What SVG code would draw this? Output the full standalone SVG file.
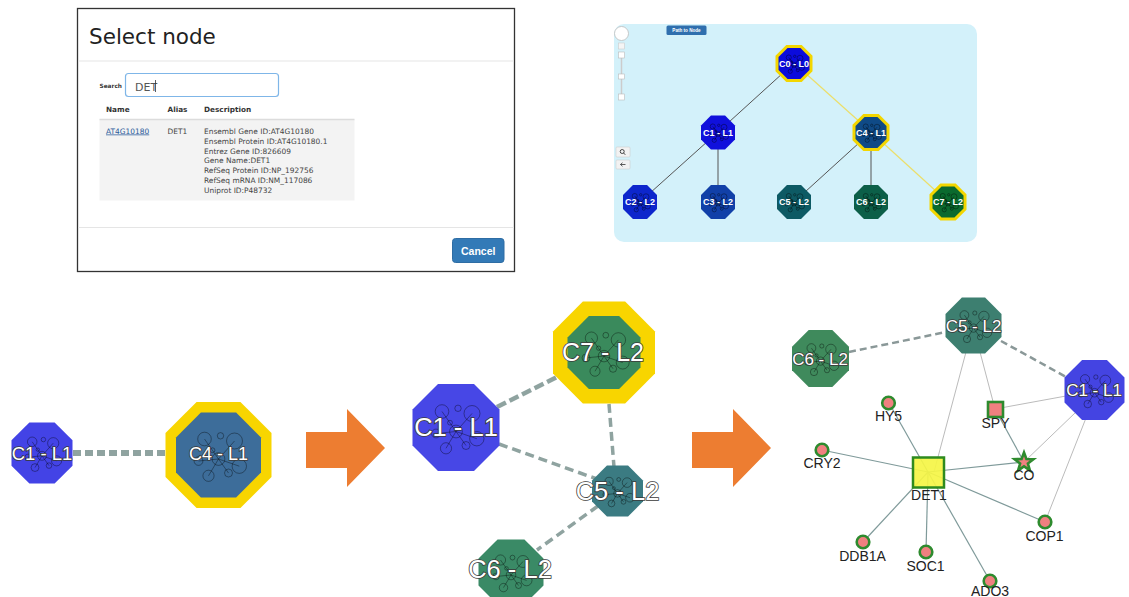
<svg xmlns="http://www.w3.org/2000/svg" xmlns:xlink="http://www.w3.org/1999/xlink" width="1129" height="597" viewBox="0 0 1129 597">
<style>
.dlg{font-family:"DejaVu Sans","Liberation Sans",sans-serif}
.hd{font-size:7.3px;font-weight:bold;fill:#333}
.desc{font-size:7.45px;fill:#444}
.tl{font-family:"Liberation Sans",Arial,sans-serif;font-weight:bold;font-size:9px;fill:#fff;text-anchor:middle}
.big{font-family:"Liberation Sans",Arial,sans-serif;fill:#fff;stroke:#3a3a3a;stroke-width:1.6;paint-order:stroke;text-anchor:middle}
.sm{font-family:"Liberation Sans",Arial,sans-serif;font-size:14px;fill:#222;text-anchor:middle}
.dash{fill:none;stroke:#8fa3a0}
.gl{stroke:#7f9a9a;stroke-width:1.2}
.tn{stroke:#bbbbbb;stroke-width:1}
.gene{fill:#f08080;stroke:#2e8b2e;stroke-width:2.6}
</style>
<defs>
<polygon id="oct" points="-41.42,-100 41.42,-100 100,-41.42 100,41.42 41.42,100 -41.42,100 -100,41.42 -100,-41.42"/>
<g id="ico" fill="none" stroke="#000" stroke-opacity="0.36">
<line x1="0" y1="10" x2="-35" y2="-40" vector-effect="non-scaling-stroke"/>
<line x1="0" y1="10" x2="40" y2="-35" vector-effect="non-scaling-stroke"/>
<line x1="0" y1="10" x2="-50" y2="15" vector-effect="non-scaling-stroke"/>
<line x1="0" y1="10" x2="-25" y2="52" vector-effect="non-scaling-stroke"/>
<line x1="0" y1="10" x2="25" y2="45" vector-effect="non-scaling-stroke"/>
<line x1="0" y1="10" x2="52" y2="28" vector-effect="non-scaling-stroke"/>
<circle cx="0" cy="10" r="16" vector-effect="non-scaling-stroke"/>
<circle cx="-35" cy="-40" r="17" vector-effect="non-scaling-stroke"/>
<circle cx="5" cy="-48" r="8" vector-effect="non-scaling-stroke"/>
<circle cx="40" cy="-35" r="20" vector-effect="non-scaling-stroke"/>
<circle cx="-50" cy="15" r="11" vector-effect="non-scaling-stroke"/>
<circle cx="-25" cy="52" r="14" vector-effect="non-scaling-stroke"/>
<circle cx="25" cy="45" r="10" vector-effect="non-scaling-stroke"/>
<circle cx="52" cy="28" r="18" vector-effect="non-scaling-stroke"/>
<circle cx="-15" cy="-12" r="6" vector-effect="non-scaling-stroke"/>
</g>
<polygon id="arrow" points="0,23 41,23 41,0 79,39 41,78 41,59 0,59"/>
</defs>

<!-- Dialog -->
<g id="dialog" class="dlg">
<rect x="77.5" y="8.5" width="437" height="263" fill="#fff" stroke="#333" stroke-width="1.3"/>
<text x="89" y="44" font-size="21.5" fill="#222">Select node</text>
<line x1="78" y1="61" x2="514" y2="61" stroke="#e5e5e5" stroke-width="1"/>
<text x="99.5" y="87.5" font-size="5.8" font-weight="bold" fill="#333">Search</text>
<rect x="125.5" y="73.5" width="153" height="23" rx="3" fill="#fff" stroke="#7fb6e8" stroke-width="1.2"/>
<text x="135" y="90.5" font-size="11" fill="#555">DET</text>
<line x1="155.5" y1="80" x2="155.5" y2="92" stroke="#333" stroke-width="0.8"/>
<text x="106" y="111.5" class="hd">Name</text>
<text x="167.5" y="111.5" class="hd">Alias</text>
<text x="204" y="111.5" class="hd">Description</text>
<rect x="99.5" y="119.5" width="255" height="81" fill="#f3f3f3"/>
<line x1="99.5" y1="119.5" x2="354.5" y2="119.5" stroke="#dcdcdc" stroke-width="1.5"/>
<text x="106" y="133.5" class="desc" style="fill:#2a5a9a" text-decoration="underline">AT4G10180</text>
<text x="167.5" y="133.5" class="desc">DET1</text>
<text x="204" y="133.5" class="desc">Ensembl Gene ID:AT4G10180</text>
<text x="204" y="143.5" class="desc">Ensembl Protein ID:AT4G10180.1</text>
<text x="204" y="153.5" class="desc">Entrez Gene ID:826609</text>
<text x="204" y="163.3" class="desc">Gene Name:DET1</text>
<text x="204" y="173.2" class="desc">RefSeq Protein ID:NP_192756</text>
<text x="204" y="183" class="desc">RefSeq mRNA ID:NM_117086</text>
<text x="204" y="192.8" class="desc">Uniprot ID:P48732</text>
<line x1="78" y1="227.5" x2="514" y2="227.5" stroke="#e5e5e5" stroke-width="1"/>
<rect x="452.5" y="238.5" width="51.5" height="24" rx="3" fill="#337ab7" stroke="#2e6da4"/>
<text x="478.2" y="254.5" font-size="10.5" font-weight="bold" fill="#fff" text-anchor="middle" font-family="Liberation Sans, Arial, sans-serif">Cancel</text>
</g>

<!-- Tree panel -->
<g id="tree-panel">
<rect x="614" y="24" width="363" height="218" rx="10" fill="#d3f1fa"/>
<rect x="666.5" y="25.5" width="40" height="9.5" rx="1.5" fill="#2f6fae"/>
<text x="686.5" y="32.3" font-family="Liberation Sans, Arial, sans-serif" font-size="4.6" font-weight="bold" fill="#fff" text-anchor="middle">Path to Node</text>
<circle cx="621.5" cy="33.5" r="7" fill="#fff" stroke="#bbb" stroke-width="0.8"/>
<line x1="621.5" y1="55" x2="621.5" y2="97" stroke="#ccc" stroke-width="1.5"/>
<rect x="618.5" y="43" width="6" height="6" fill="#f5f5f5" stroke="#ccc" stroke-width="0.6"/>
<rect x="618.5" y="52" width="6" height="6" fill="#fff" stroke="#bbb" stroke-width="0.6"/>
<rect x="618.5" y="74" width="6" height="5" fill="#fff" stroke="#bbb" stroke-width="0.6"/>
<rect x="618.5" y="94" width="6" height="6" fill="#fff" stroke="#bbb" stroke-width="0.6"/>
<rect x="616" y="147" width="14" height="10" rx="1" fill="#f2f2f2" stroke="#ccc" stroke-width="0.6"/>
<circle cx="622.2" cy="151.5" r="2" fill="none" stroke="#333" stroke-width="0.9"/>
<line x1="623.6" y1="153" x2="625.3" y2="154.8" stroke="#333" stroke-width="0.9"/>
<rect x="616" y="160" width="14" height="9" rx="1" fill="#f2f2f2" stroke="#ccc" stroke-width="0.6"/>
<path d="M620.5,164.5 L625.5,164.5 M620.5,164.5 L622.5,162.7 M620.5,164.5 L622.5,166.3" stroke="#333" stroke-width="0.8" fill="none"/>
</g>
<g id="tree-edges">
<line x1="794" y1="63" x2="718" y2="132" stroke="#555" stroke-width="1"/>
<line x1="794" y1="63" x2="871" y2="132" stroke="#ecdf6a" stroke-width="1.2"/>
<line x1="718" y1="132" x2="640" y2="202" stroke="#555" stroke-width="1"/>
<line x1="718" y1="132" x2="718" y2="202" stroke="#555" stroke-width="1"/>
<line x1="871" y1="132" x2="794" y2="202" stroke="#555" stroke-width="1"/>
<line x1="871" y1="132" x2="871" y2="202" stroke="#555" stroke-width="1"/>
<line x1="871" y1="132" x2="948" y2="202" stroke="#ecdf6a" stroke-width="1.2"/>
</g>
<g id="t-c0"><use href="#oct" transform="translate(794,63.5) scale(0.185)" fill="#f3d600"/><use href="#oct" transform="translate(794,63.5) scale(0.155)" fill="#0b0bdc"/><use href="#ico" transform="translate(794,63.5) scale(0.15)"/><text class="tl" x="794" y="66.5">C0 - L0</text></g>
<g id="t-c1"><use href="#oct" transform="translate(718,132.5) scale(0.17)" fill="#1010dc"/><use href="#ico" transform="translate(718,132.5) scale(0.15)"/><text class="tl" x="718" y="135.5">C1 - L1</text></g>
<g id="t-c4"><use href="#oct" transform="translate(871,132.5) scale(0.185)" fill="#f3d600"/><use href="#oct" transform="translate(871,132.5) scale(0.155)" fill="#0f4a86"/><use href="#ico" transform="translate(871,132.5) scale(0.15)"/><text class="tl" x="871" y="135.5">C4 - L1</text></g>
<g id="t-c2"><use href="#oct" transform="translate(640,202) scale(0.17)" fill="#0d26cc"/><use href="#ico" transform="translate(640,202) scale(0.15)"/><text class="tl" x="640" y="205">C2 - L2</text></g>
<g id="t-c3"><use href="#oct" transform="translate(718,202) scale(0.17)" fill="#1140a8"/><use href="#ico" transform="translate(718,202) scale(0.15)"/><text class="tl" x="718" y="205">C3 - L2</text></g>
<g id="t-c5"><use href="#oct" transform="translate(794,202) scale(0.17)" fill="#0d5a64"/><use href="#ico" transform="translate(794,202) scale(0.15)"/><text class="tl" x="794" y="205">C5 - L2</text></g>
<g id="t-c6"><use href="#oct" transform="translate(871,202) scale(0.17)" fill="#0c5f48"/><use href="#ico" transform="translate(871,202) scale(0.15)"/><text class="tl" x="871" y="205">C6 - L2</text></g>
<g id="t-c7"><use href="#oct" transform="translate(948,202) scale(0.185)" fill="#f3d600"/><use href="#oct" transform="translate(948,202) scale(0.155)" fill="#0b6a2e"/><use href="#ico" transform="translate(948,202) scale(0.15)"/><text class="tl" x="948" y="205">C7 - L2</text></g>

<!-- Arrows -->
<g id="arrow1"><use href="#arrow" transform="translate(306,409)" fill="#ed7d31"/></g>
<g id="arrow2"><use href="#arrow" transform="translate(692,409)" fill="#ed7d31"/></g>

<!-- Connectors bottom -->
<g id="connectors">
<line class="dash" x1="73" y1="453" x2="166" y2="453" stroke-width="6" stroke-dasharray="8,4"/>
<line class="dash" x1="497" y1="407" x2="557" y2="377" stroke-width="4.5" stroke-dasharray="10,4"/>
<line class="dash" x1="609" y1="404" x2="614" y2="467" stroke-width="3.5" stroke-dasharray="9,5"/>
<line class="dash" x1="499" y1="444" x2="597" y2="479" stroke-width="3.5" stroke-dasharray="9,5"/>
<line class="dash" x1="598" y1="506" x2="537" y2="550" stroke-width="3.5" stroke-dasharray="9,5"/>
<line x1="849" y1="352" x2="946" y2="332" stroke="#8a9898" stroke-width="2.5" stroke-dasharray="7,4"/>
<line x1="1001" y1="341" x2="1068" y2="378" stroke="#8a9898" stroke-width="2.5" stroke-dasharray="7,4"/>
<line class="tn" x1="966" y1="352" x2="934" y2="472"/>
<line class="tn" x1="980" y1="352" x2="995" y2="409"/>
<line class="tn" x1="1066" y1="396" x2="995" y2="409"/>
<line class="tn" x1="1076" y1="412" x2="1024" y2="462"/>
<line class="tn" x1="1086" y1="418" x2="1045" y2="522"/>
<line class="gl" x1="995" y1="409" x2="1024" y2="462"/>
<line class="gl" x1="928" y1="472" x2="889" y2="403"/>
<line class="gl" x1="928" y1="472" x2="822" y2="450"/>
<line class="gl" x1="928" y1="472" x2="1024" y2="462"/>
<line class="gl" x1="928" y1="472" x2="1045" y2="522"/>
<line class="gl" x1="928" y1="472" x2="863" y2="542"/>
<line class="gl" x1="928" y1="472" x2="926" y2="552"/>
<line class="gl" x1="928" y1="472" x2="990" y2="581"/>
</g>

<!-- Left pair -->
<g id="l-c1"><use href="#oct" transform="translate(42,453) scale(0.305)" fill="#4343e6"/><use href="#ico" transform="translate(42,453) scale(0.28)"/><text class="big" x="42" y="460" font-size="18.5" stroke-width="1">C1 - L1</text></g>
<g id="l-c4"><use href="#oct" transform="translate(218.5,455) scale(0.53)" fill="#f8d500"/><use href="#oct" transform="translate(218.5,455) scale(0.425)" fill="#3d6d9a"/><use href="#ico" transform="translate(218.5,455) scale(0.4)"/><text class="big" x="218.5" y="460" font-size="18" stroke-width="1">C4 - L1</text></g>

<!-- Middle group -->
<g id="m-c1"><use href="#oct" transform="translate(456,427.5) scale(0.435)" fill="#4747e6"/><use href="#ico" transform="translate(456,427.5) scale(0.4)"/><text class="big" x="456" y="436" font-size="25.5">C1 - L1</text></g>
<g id="m-c7"><use href="#oct" transform="translate(604,352.5) scale(0.51)" fill="#f8d500"/><use href="#oct" transform="translate(604,352.5) scale(0.365)" fill="#3a8a5c"/><use href="#ico" transform="translate(604,352.5) scale(0.36)"/><text class="big" x="603" y="361" font-size="25">C7 - L2</text></g>
<g id="m-c5"><use href="#oct" transform="translate(617.5,491) scale(0.255)" fill="#3b7b82"/><use href="#ico" transform="translate(617.5,491) scale(0.24)"/><text class="big" x="617.5" y="499.5" font-size="25.5">C5 - L2</text></g>
<g id="m-c6"><use href="#oct" transform="translate(511,572) scale(0.325)" fill="#3a8a66"/><use href="#ico" transform="translate(511,572) scale(0.3)"/><text class="big" x="510" y="578" font-size="25.5">C6 - L2</text></g>

<!-- Right group -->
<g id="r-c5"><use href="#oct" transform="translate(973.5,325.5) scale(0.28)" fill="#3d7f70"/><use href="#ico" transform="translate(973.5,325.5) scale(0.26)"/><text class="big" x="973.5" y="331.5" font-size="17" stroke-width="1.2">C5 - L2</text></g>
<g id="r-c6"><use href="#oct" transform="translate(820.5,358.5) scale(0.285)" fill="#3f8a5c"/><use href="#ico" transform="translate(820.5,358.5) scale(0.26)"/><text class="big" x="820" y="364.5" font-size="17" stroke-width="1.2">C6 - L2</text></g>
<g id="r-c1"><use href="#oct" transform="translate(1094.5,390) scale(0.3)" fill="#4444e2"/><use href="#ico" transform="translate(1094.5,390) scale(0.27)"/><text class="big" x="1094" y="396" font-size="17" stroke-width="1.2">C1 - L1</text></g>
<g id="hy5"><circle class="gene" cx="888.5" cy="403" r="6.3"/><text class="sm" x="888.5" y="421">HY5</text></g>
<g id="spy"><rect class="gene" x="988" y="402" width="15" height="15"/><text class="sm" x="995.5" y="428">SPY</text></g>
<g id="cry2"><circle class="gene" cx="822" cy="450" r="6.3"/><text class="sm" x="822" y="468">CRY2</text></g>
<g id="det1"><rect x="913" y="457.5" width="31" height="30" fill="#f5f545" fill-opacity="0.92" stroke="#2e8b1e" stroke-width="2.5"/><text class="sm" x="929" y="500">DET1</text></g>
<g id="co"><polygon class="gene" stroke-width="2" points="1024,452.5 1026.4,459 1033.5,459.2 1027.9,463.6 1029.9,470.4 1024,466.4 1018.1,470.4 1020.1,463.6 1014.5,459.2 1021.6,459"/><text class="sm" x="1024" y="480">CO</text></g>
<g id="cop1"><circle class="gene" cx="1045" cy="522" r="6.3"/><text class="sm" x="1044.5" y="541">COP1</text></g>
<g id="ddb1a"><circle class="gene" cx="863" cy="542" r="6.3"/><text class="sm" x="862.5" y="561">DDB1A</text></g>
<g id="soc1"><circle class="gene" cx="926" cy="552" r="6.3"/><text class="sm" x="925.5" y="571">SOC1</text></g>
<g id="ado3"><circle class="gene" cx="990" cy="581" r="6.3"/><text class="sm" x="990" y="596">ADO3</text></g>
</svg>
